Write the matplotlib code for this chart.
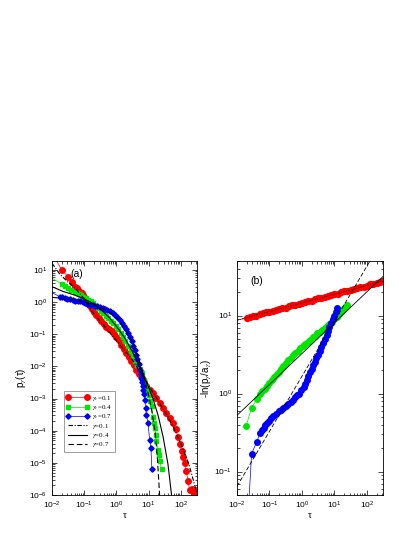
import numpy as np
import matplotlib
matplotlib.use("Agg")
import matplotlib.pyplot as plt
from matplotlib.ticker import NullFormatter, LogLocator

plt.rcParams['font.family'] = ['Liberation Sans', 'DejaVu Sans']
plt.rcParams['mathtext.fontset'] = 'stix'

# ---- panel (a): log10(tau), log10(p_gamma)
# first point of each data series carries no marker (line only)
a_red_x = [-1.95, -1.70, -1.50, -1.39, -1.29, -1.23, -1.18, -1.13, -1.08, -1.03,
           -0.98, -0.93, -0.88, -0.82, -0.75, -0.69, -0.62, -0.55, -0.47, -0.39, -0.31, -0.23,
           -0.15, -0.08, 0.00, 0.07, 0.15, 0.23, 0.31, 0.38, 0.46, 0.54, 0.62, 0.70, 0.78, 0.85,
           0.93, 1.03, 1.14, 1.24, 1.34, 1.44, 1.55, 1.65, 1.76, 1.84, 1.91, 1.97, 2.02, 2.07,
           2.12, 2.17, 2.22, 2.27, 2.35, 2.40, 2.43, 2.48]
a_red_y = [1.45, 1.00, 0.79, 0.64, 0.48, 0.43, 0.38, 0.33, 0.28, 0.21,
           0.13, 0.05, -0.03, -0.12, -0.22, -0.31, -0.40, -0.49, -0.58, -0.67, -0.76, -0.84,
           -0.91, -0.99, -1.07, -1.19, -1.32, -1.46, -1.59, -1.71, -1.84, -1.97, -2.10, -2.23, -2.36, -2.49,
           -2.62, -2.72, -2.83, -2.98, -3.14, -3.29, -3.45, -3.60, -3.76, -3.95, -4.18, -4.40, -4.64, -4.82,
           -5.00, -5.26, -5.55, -5.83, -5.80, -5.90, -5.88, -5.85]

a_green_x = [-2.0, -1.70, -1.60, -1.50, -1.40, -1.29, -1.22, -1.15, -1.09, -1.03, -0.96, -0.88,
             -0.80, -0.72, -0.64, -0.56, -0.48, -0.41, -0.33, -0.25, -0.17, -0.10, -0.02, 0.05,
             0.13, 0.21, 0.28, 0.36, 0.44, 0.52, 0.58, 0.65, 0.72, 0.78, 0.86, 0.93, 0.97, 1.01,
             1.05, 1.09, 1.14, 1.17, 1.19, 1.22, 1.24, 1.29, 1.31, 1.34, 1.40]
a_green_y = [0.75, 0.56, 0.49, 0.43, 0.38, 0.33, 0.29, 0.25, 0.21, 0.17, 0.12, 0.07,
             0.02, -0.03, -0.11, -0.19, -0.27, -0.35, -0.42, -0.50, -0.58, -0.66, -0.75, -0.85,
             -0.96, -1.07, -1.21, -1.36, -1.52, -1.69, -1.82, -1.95, -2.08, -2.21, -2.41, -2.62, -2.75, -2.90,
             -3.07, -3.24, -3.56, -3.75, -3.92, -4.12, -4.33, -4.59, -4.75, -4.95, -5.19]

a_blue_x = [-2.0, -1.75, -1.68, -1.60, -1.52, -1.44, -1.36, -1.28, -1.20, -1.13, -1.05, -0.97,
            -0.90, -0.82, -0.74, -0.66, -0.59, -0.51, -0.43, -0.35, -0.28, -0.20, -0.12, -0.05,
            0.03, 0.11, 0.18, 0.24, 0.30, 0.36, 0.42, 0.47, 0.52, 0.57, 0.61, 0.65, 0.69, 0.72,
            0.75, 0.77, 0.79, 0.81, 0.83, 0.85, 0.88, 0.91, 0.93, 0.98, 1.03, 1.07, 1.10]
a_blue_y = [0.29, 0.17, 0.15, 0.13, 0.11, 0.09, 0.07, 0.05, 0.04, 0.02, 0.00, -0.03,
            -0.06, -0.09, -0.10, -0.11, -0.12, -0.14, -0.17, -0.20, -0.24, -0.29, -0.34, -0.40,
            -0.47, -0.55, -0.64, -0.74, -0.85, -0.97, -1.09, -1.22, -1.35, -1.48, -1.63, -1.78, -1.94, -2.10,
            -2.23, -2.36, -2.49, -2.62, -2.74, -2.85, -3.06, -3.30, -3.50, -3.76, -4.28, -4.54, -5.20]

a_fit01_x = [-2.0, -1.75, -1.5, -1.25, -1.0, -0.75, -0.5, -0.25, 0.0, 0.25, 0.5, 0.75, 1.0, 1.25, 1.5, 1.75, 2.0, 2.25, 2.5]
a_fit01_y = [1.21, 0.86, 0.62, 0.40, 0.10, -0.30, -0.60, -0.90, -1.20, -1.50, -1.80, -2.20, -2.60, -3.00, -3.40, -3.85, -4.40, -5.05, -5.95]
a_fit04_x = [-2.0, -1.65, -1.3, -1.0, -0.75, -0.5, -0.25, 0.0, 0.25, 0.5, 0.75, 1.0, 1.15, 1.3, 1.45, 1.6, 1.71]
a_fit04_y = [0.48, 0.33, 0.22, 0.10, -0.03, -0.22, -0.45, -0.75, -1.10, -1.55, -2.05, -2.65, -3.05, -3.55, -4.20, -5.05, -6.0]
a_fit07_x = [-2.0, -1.5, -1.0, -0.5, -0.25, 0.0, 0.25, 0.5, 0.7, 0.9, 1.0, 1.1, 1.2, 1.27, 1.34]
a_fit07_y = [0.15, 0.10, 0.0, -0.15, -0.30, -0.48, -0.80, -1.25, -1.80, -2.50, -2.90, -3.40, -4.05, -4.85, -6.0]

# ---- panel (b): log10(tau), log10(-ln(p/a))
b_red_x = [-2.0, -1.7, -1.6, -1.5, -1.4, -1.3, -1.2, -1.1, -1.0, -0.9, -0.8, -0.7, -0.6, -0.5,
           -0.4, -0.3, -0.2, -0.1, 0.0, 0.1, 0.2, 0.3, 0.4, 0.5, 0.6, 0.7, 0.8, 0.9, 1.0,
           1.1, 1.2, 1.3, 1.4, 1.5, 1.6, 1.7, 1.8, 1.9, 2.0, 2.1, 2.2, 2.3, 2.4, 2.5]
b_red_y = [0.94, 0.97, 0.98, 0.99, 1.00, 1.02, 1.03, 1.04, 1.05, 1.06, 1.07, 1.08, 1.09, 1.10,
           1.12, 1.13, 1.14, 1.15, 1.16, 1.17, 1.18, 1.19, 1.21, 1.22, 1.23, 1.24, 1.25, 1.26, 1.27,
           1.28, 1.30, 1.31, 1.32, 1.33, 1.34, 1.35, 1.36, 1.37, 1.38, 1.40, 1.41, 1.42, 1.43, 1.44]

b_green_x = [-1.72, -1.55, -1.39, -1.29, -1.22, -1.15, -1.08, -1.00, -0.92, -0.85, -0.78, -0.71,
             -0.64, -0.57, -0.50, -0.42, -0.35, -0.27, -0.20, -0.12, -0.05, 0.03, 0.10, 0.18,
             0.25, 0.33, 0.40, 0.48, 0.55, 0.63, 0.70, 0.78, 0.85, 0.93, 1.00, 1.08, 1.15,
             1.22, 1.28, 1.34, 1.39]
b_green_y = [-0.42, -0.18, -0.07, 0.00, 0.03, 0.06, 0.09, 0.13, 0.17, 0.21, 0.25, 0.28,
             0.32, 0.35, 0.39, 0.43, 0.46, 0.49, 0.52, 0.55, 0.58, 0.61, 0.63, 0.66,
             0.69, 0.72, 0.74, 0.77, 0.79, 0.82, 0.84, 0.87, 0.89, 0.92, 0.95, 0.98, 1.02,
             1.05, 1.08, 1.11, 1.14]

b_blue_x = [-1.65, -1.55, -1.39, -1.29, -1.23, -1.18, -1.13, -1.08, -1.02, -0.95, -0.88, -0.80,
            -0.72, -0.65, -0.58, -0.50, -0.42, -0.35, -0.28, -0.20, -0.14, -0.08, -0.02, 0.05,
            0.10, 0.15, 0.20, 0.25, 0.30, 0.35, 0.40, 0.45, 0.50, 0.55, 0.60, 0.66, 0.71,
            0.76, 0.80, 0.85, 0.90, 0.95, 1.00, 1.04, 1.08]
b_blue_y = [-1.50, -0.77, -0.62, -0.50, -0.47, -0.44, -0.41, -0.38, -0.35, -0.32, -0.29, -0.26,
            -0.23, -0.21, -0.18, -0.16, -0.13, -0.11, -0.08, -0.05, -0.02, 0.00, 0.04, 0.08,
            0.12, 0.17, 0.22, 0.27, 0.31, 0.36, 0.40, 0.45, 0.50, 0.55, 0.59, 0.65, 0.70,
            0.75, 0.80, 0.85, 0.90, 0.95, 1.00, 1.05, 1.10]

b_fit01_x = [-2.0, 2.5]
b_fit01_y = [0.94, 1.44]
b_fit04_x = [-2.0, 2.5]
b_fit04_y = [-0.28, 1.50]
b_fit07_x = [-2.0, 2.1]
b_fit07_y = [-1.19, 1.70]

gamma_labels = ['0.1', '0.4', '0.7']


def lg(v):
    return 10 ** np.asarray(v)


def setAxes(ax):
    ax.set_xscale('log')
    ax.set_yscale('log')
    ax.tick_params(which='both', direction='in', top=True, right=True, labelsize=6, width=0.5)
    ax.tick_params(which='major', length=3.5)
    ax.tick_params(which='minor', length=1.8)
    ax.xaxis.set_minor_locator(LogLocator(base=10, subs=np.arange(2, 10), numticks=20))
    ax.yaxis.set_minor_locator(LogLocator(base=10, subs=np.arange(2, 10), numticks=20))
    ax.xaxis.set_minor_formatter(NullFormatter())
    ax.yaxis.set_minor_formatter(NullFormatter())
    for s in ax.spines.values():
        s.set_linewidth(0.6)
    ax.set_xlim(1e-2, 10 ** 2.5)
    ax.set_xlabel('τ', fontsize=7, family='Liberation Serif', labelpad=0)
    return ax


def plotData(ax, x, y, color, marker, ms, label=None):
    ax.plot(lg(x), lg(y), '-', color=color, lw=0.5, marker=marker, ms=ms,
            mec=color, mfc=color, markevery=list(range(1, len(x))), label=label)


fig = plt.figure(figsize=(4.15, 5.37), dpi=100)
ax1 = fig.add_axes([0.1253, 0.0782, 0.3494, 0.4358])
ax2 = fig.add_axes([0.5711, 0.0782, 0.3518, 0.4358])

red, green, blue = '#ff0000', '#00e600', '#0000ff'

# panel (a)
plotData(ax1, a_red_x, a_red_y, red, 'o', 4.0, r'$\gamma_c$=' + gamma_labels[0])
plotData(ax1, a_green_x, a_green_y, green, 's', 3.0, r'$\gamma_c$=' + gamma_labels[1])
plotData(ax1, a_blue_x, a_blue_y, blue, 'D', 2.7, r'$\gamma_c$=' + gamma_labels[2])
ax1.plot(lg(a_fit01_x), lg(a_fit01_y), color='k', lw=0.8, dashes=(4, 1.5, 1, 1.5), label=r'$\gamma$=' + gamma_labels[0])
ax1.plot(lg(a_fit04_x), lg(a_fit04_y), color='k', lw=0.8, ls='-', label=r'$\gamma$=' + gamma_labels[1])
ax1.plot(lg(a_fit07_x), lg(a_fit07_y), color='k', lw=0.8, dashes=(5, 2.5), label=r'$\gamma$=' + gamma_labels[2])
setAxes(ax1)
ax1.set_ylim(1e-6, 10 ** 1.28)
ax1.set_ylabel(r'p$_\gamma$(τ)', fontsize=7, labelpad=0)
ax1.text(0.13, 0.93, '(a)', transform=ax1.transAxes, fontsize=7.5)
leg = ax1.legend(loc='lower left', bbox_to_anchor=(0.08, 0.185), prop={'family': 'Liberation Serif', 'size': 5},
                 numpoints=2, handlelength=3.3, handleheight=0.4, fancybox=False, edgecolor='#555555',
                 borderpad=0.35, labelspacing=0.05, handletextpad=0.5, borderaxespad=0)
leg.get_frame().set_linewidth(0.5)

# panel (b)
plotData(ax2, b_red_x, b_red_y, red, 'o', 4.2)
ax2.plot(lg(b_green_x), lg(b_green_y), '-', color=green, lw=0.5, marker='o', ms=4.0, mec=green, mfc=green)
plotData(ax2, b_blue_x, b_blue_y, blue, 'o', 4.0)
ax2.plot(lg(b_fit01_x), lg(b_fit01_y), color='k', lw=0.6, dashes=(2, 1.5, 1, 1.5))
ax2.plot(lg(b_fit04_x), lg(b_fit04_y), color='k', lw=0.6, ls='-')
ax2.plot(lg(b_fit07_x), lg(b_fit07_y), color='k', lw=0.6, dashes=(5, 2.5))
setAxes(ax2)
ax2.set_ylim(0.05, 50)
ax2.set_ylabel(r'-ln(p$_\gamma$/a$_\gamma$)', fontsize=7, labelpad=0)
ax2.text(0.09, 0.9, '(b)', transform=ax2.transAxes, fontsize=7.5)

fig.savefig('out.png', dpi=100)
